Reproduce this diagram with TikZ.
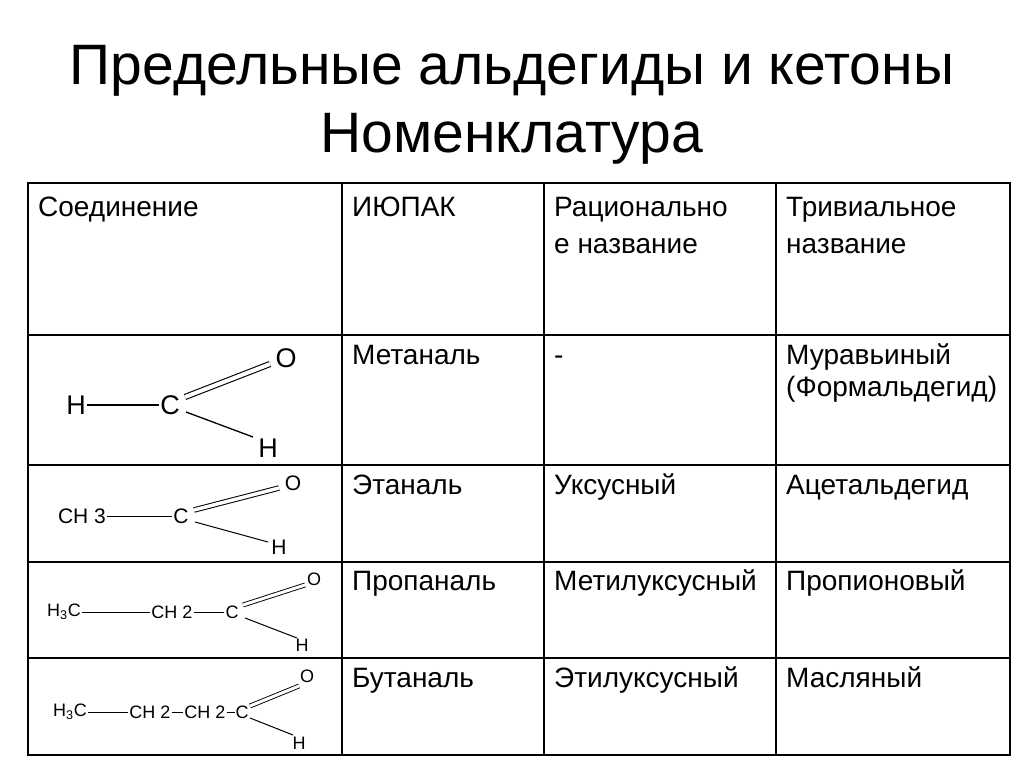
\documentclass[tikz,border=0pt]{standalone}
\usepackage{fontspec}
\setmainfont{Liberation Sans}
\begin{document}
\begin{tikzpicture}[x=1pt,y=-1pt,
 title/.style={font=\fontsize{57}{64}\selectfont,anchor=base,inner sep=0pt},
 cell/.style={font=\fontsize{28}{32}\selectfont,anchor=base west,align=left,inner sep=0pt},
 atom/.style={font=\fontsize{27}{30}\selectfont,inner sep=1pt},
 satom/.style={font=\fontsize{18}{20}\selectfont,inner sep=1pt},
 bond/.style={line width=1.3pt},
 dbond/.style={line width=1.1pt,double,double distance=4pt}]
\useasboundingbox (0,0) rectangle (1024,768);
\node[title] (t1) at (512,84) {Предельные альдегиды и кетоны};
\node[title] (t2) at (512,152) {Номенклатура};
\draw[line width=1.5pt] (28,183) rectangle (1010,755);
\foreach \x in {342,544,776} \draw[line width=1.5pt] (\x,183) -- (\x,755);
\foreach \y in {335,465,562,658} \draw[line width=1.5pt] (28,\y) -- (1010,\y);
% header
\node[cell] (h1) at (38,216) {Соединение};
\node[cell] (h2) at (352,216) {ИЮПАК};
\node[cell] (h3) at (554,216) {Рациональн\rlap{о}};
\node[cell] (h3b) at (554,253) {е название};
\node[cell] (h4) at (786,216) {Тривиальное};
\node[cell] (h4b) at (786,253) {название};
% rows
\node[cell] (a2) at (352,364) {Метаналь};
\node[cell] (a3) at (554,364) {-};
\node[cell] (a4) at (786,364) {Муравьиный};
\node[cell] (a4b) at (786,396) {(Формальдегид)};
\node[cell] (b2) at (352,494) {Этаналь};
\node[cell] (b3) at (554,494) {Уксусный};
\node[cell] (b4) at (786,494) {Ацетальдегид};
\node[cell] (c2) at (352,590) {Пропаналь};
\node[cell] (c3) at (554,590) {Метилуксусный};
\node[cell] (c4) at (786,590) {Пропионовый};
\node[cell] (d2) at (352,687) {Бутаналь};
\node[cell] (d3) at (554,687) {Этилуксусный};
\node[cell] (d4) at (786,687) {Масляный};
% formula 1
\node[atom] (f1h) at (76,405) {H};
\node[atom] (f1c) at (170,405) {C};
\node[atom] (f1o) at (286,358) {O};
\node[atom] (f1h2) at (268,448) {H};
\draw[bond] (f1h) -- (f1c);
\draw[dbond] (185,397) -- (270,364);
\draw[bond] (186,412) -- (253,437);
% formula 2
\node[satom,font=\fontsize{21}{24}\selectfont] (f2a) at (82,516) {CH 3};
\node[satom,font=\fontsize{21}{24}\selectfont] (f2c) at (181,516) {C};
\node[satom,font=\fontsize{21}{24}\selectfont] (f2o) at (293,483) {O};
\node[satom,font=\fontsize{21}{24}\selectfont] (f2h) at (279,547) {H};
\draw[bond,line width=1pt] (f2a) -- (f2c);
\draw[dbond,line width=1pt,double distance=3.5pt] (194,510) -- (279,488);
\draw[bond,line width=1pt] (195,522) -- (268,542);
% formula 3
\node[satom] (f3a) at (64,612) {H\textsubscript{3}C};
\node[satom] (f3b) at (172,612) {CH 2};
\node[satom] (f3c) at (232,612) {C};
\node[satom] (f3o) at (314,579) {O};
\node[satom] (f3h) at (302,645) {H};
\draw[bond,line width=1pt] (f3a) -- (f3b);
\draw[bond,line width=1pt] (f3b) -- (f3c);
\draw[dbond,line width=0.9pt,double distance=3pt] (243,605) -- (305,585);
\draw[bond,line width=1pt] (245,618) -- (297,638);
% formula 4
\node[satom] (f4a) at (70,712) {H\textsubscript{3}C};
\node[satom] (f4b) at (150,712) {CH 2};
\node[satom] (f4c) at (205,712) {CH 2};
\node[satom,inner sep=0pt] (f4d) at (242,712) {C};
\node[satom] (f4o) at (307,676) {O};
\node[satom] (f4h) at (299,743) {H};
\draw[bond,line width=1pt] (f4a) -- (f4b);
\draw[bond,line width=1pt] (f4b) -- (f4c);
\draw[bond,line width=1pt] (f4c) -- (f4d);
\draw[dbond,line width=0.9pt,double distance=3pt] (250,706) -- (299,686);
\draw[bond,line width=1pt] (250,718) -- (293,735);
\end{tikzpicture}
\end{document}
